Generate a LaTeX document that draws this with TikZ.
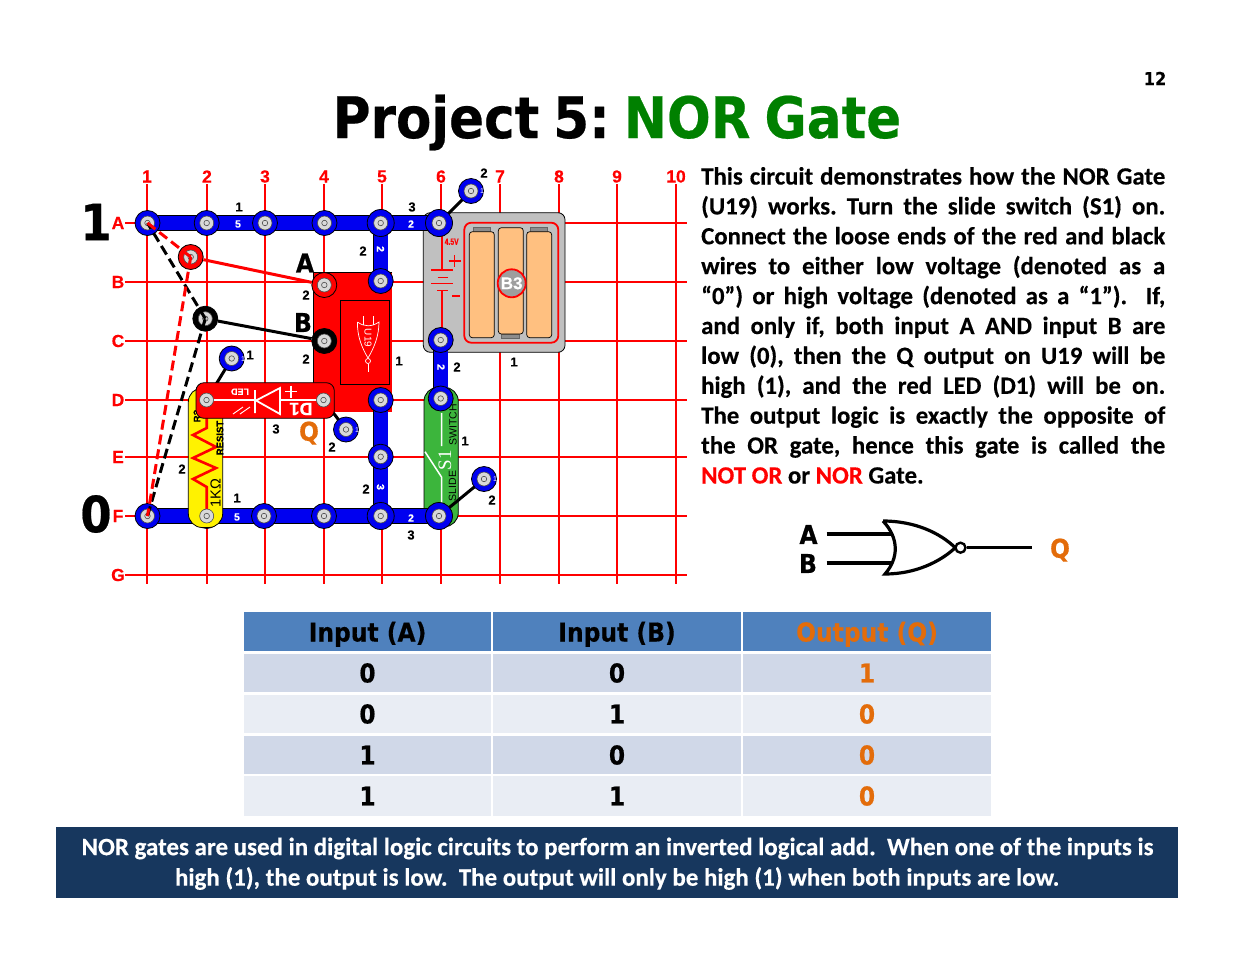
\documentclass[tikz,border=0pt]{standalone}
\usepackage{fontspec}
\setmainfont[BoldFeatures={FakeBold=0.35}]{Carlito}
\newfontfamily\lib[BoldFeatures={FakeBold=0.3}]{Liberation Sans}
\newfontfamily\libser{Liberation Serif}
\newfontfamily\djc[FakeStretch=0.9,BoldFeatures={FakeBold=0.4}]{DejaVu Sans}
\definecolor{snapblue}{HTML}{0000F0}
\definecolor{hdrblue}{HTML}{4F81BD}
\definecolor{rowa}{HTML}{D0D8E8}
\definecolor{rowb}{HTML}{E9EDF4}
\definecolor{qorange}{HTML}{E36C0A}
\definecolor{band}{HTML}{17375E}
\definecolor{titlegreen}{HTML}{008000}
\definecolor{cellc}{HTML}{FFC080}
\definecolor{batgray}{HTML}{C0C0C0}
\definecolor{swgreen}{HTML}{3CB53C}
\newcommand\fsz[1]{\fontsize{#1}{#1}\selectfont}
\tikzset{
 gridline/.style={draw=red,line width=1.7},
 gridlab/.style={text=red,inner sep=0,font=\lib\bfseries\fsz{17.5}},
 strip/.style={draw=black,line width=.7,double=snapblue,double distance=14,line cap=round},
 snapo/.style={circle,minimum size=25,inner sep=0,draw=black,line width=.8,fill=snapblue},
 snapi/.style={circle,minimum size=14,inner sep=0,draw=black!70,line width=.6,fill=black!15},
 snapc/.style={circle,minimum size=5.5,inner sep=0,draw=black!70,line width=.6,fill=black!15},
 num/.style={inner sep=0,font=\lib\bfseries\fsz{13}},
 wnum/.style={inner sep=0,text=white,font=\lib\bfseries\fsz{10.5}},
 big/.style={inner sep=0,font=\djc\bfseries\fsz{#1}},
 cell/.style={inner sep=0,minimum width=247.5,font=\djc\bfseries\fsz{26}},
 gateline/.style={draw=black,line width=3.2},
 wirer/.style={draw=red,line width=3},
 wirek/.style={draw=black,line width=3},
 wdash/.style={dash pattern=on 10pt off 5pt},
}
\newcommand\snapat[4][25]{%
  \node[snapo,fill=#4,minimum size=#1] (#2) at (#3) {};
  \node[snapi] (#2i) at (#2) {};
  \node[snapc] (#2c) at (#2) {};}
\begin{document}
\begin{tikzpicture}[x=1pt,y=-1pt]
\useasboundingbox (0,0) rectangle (1235,954);
% ---- title
\node[inner sep=0,font=\djc\bfseries\fsz{57.3}] (title) at (617,122.5) {Project\hspace{14pt}5:\hspace{14pt}\textcolor{titlegreen}{NOR\hspace{14pt}Gate}};
\node[inner sep=0,font=\djc\bfseries\fsz{18}] (page) at (1155,78.5) {12};
% ---- grid
\foreach \x/\l in {147/1,207/2,265/3,324/4,382/5,441/6,500/7,559/8,617/9,676/10}{
  \draw[gridline] (\x,184) -- (\x,584);
  \node[gridlab] (col\l) at (\x,176.5) {\l};}
\foreach \y/\l in {223/A,282/B,341/C,400/D,457/E,516/F,575/G}{
  \draw[gridline] (125,\y) -- (687,\y);
  \node[gridlab] (row\l) at (118,\y) {\l};}
% ---- coordinates of snaps
\coordinate (a1) at (147.5,223); \coordinate (a2) at (206.7,223); \coordinate (a3) at (265,223);
\coordinate (a4) at (324.5,223); \coordinate (a5) at (380.7,223); \coordinate (a6) at (439,223);
\coordinate (b5) at (380.7,281); \coordinate (c6) at (440.7,340); \coordinate (d6) at (440.7,398.5);
\coordinate (d5) at (380.7,400); \coordinate (e5) at (380.7,456.7); \coordinate (f5) at (380.7,516);
\coordinate (f6) at (439,516); \coordinate (f1) at (147.5,516); \coordinate (f2) at (206.7,516);
\coordinate (f3) at (264,516); \coordinate (f4) at (324,516);
\coordinate (ua) at (324.3,285); \coordinate (ub) at (324.3,341);
\coordinate (l1) at (206.5,400); \coordinate (l2) at (323.5,400);
\coordinate (s1) at (471,191); \coordinate (s2) at (484,479); \coordinate (s3) at (231.7,358.5); \coordinate (s4) at (346,429.5);
\coordinate (lr) at (190.7,257); \coordinate (lk) at (205.3,318.7);
% ---- F row strip, beneath resistor
\draw[strip] (f1) -- (f5);
\node[snapo] (f2o) at (f2) {};
% ---- resistor
\draw[fill=yellow,draw=black,line width=.8,rounded corners=14] (188.3,388) rectangle (222.7,527.5);
\draw[draw=red,line width=2.6] (206.7,516) -- (206.7,487) -- (193,479) -- (216,468) -- (193,458) -- (216,447) -- (193,435) -- (206.7,428) -- (206.7,400);
\node[inner sep=0,rotate=90,font=\lib\fsz{14.5}] (rv) at (215.5,493) {1KΩ};
\node[inner sep=0,rotate=90,font=\lib\bfseries\fsz{9.5}] (rn) at (220,438) {RESIST};
\node[inner sep=0,rotate=90,font=\lib\bfseries\fsz{9.5}] (rr) at (197,416) {R?};
% ---- U19
\fill[red] (313.3,272.7) -- (392,272.7) -- (392,411.7) -- (313.3,411.7) -- cycle;
\draw[draw=black,line width=.8] (392,272.7) -- (313.3,272.7) -- (313.3,411.7);
\draw[draw=black,line width=1] (340.7,300) rectangle (389.3,384);
\begin{scope}[draw=white,line width=.7]
 \draw (357.5,322) .. controls (357,336) and (362,348) .. (368,358) .. controls (374,348) and (379,336) .. (379,322) .. controls (372,327) and (364,327) .. (357.5,322);
 \draw (363,316) -- (363,325);
 \draw (373.5,316) -- (373.5,325);
 \draw (368,361) circle (2.5);
 \draw (368,364) -- (368,372);
\end{scope}
\node[inner sep=0,rotate=-90,text=white,font=\lib\fsz{10}] (ulab) at (368,338) {U19};
% ---- battery
\draw[fill=batgray,draw=black,line width=.8,rounded corners=7] (423.3,212.7) rectangle (565,352.3);
\draw[draw=red,line width=1.8,rounded corners=7,fill=batgray] (464.3,222.7) rectangle (558.3,342.7);
\foreach \a/\b/\c/\d in {473.3/227.7/490.7/232,530/227.7/547.3/232,501/334/519/338.7}
  \draw[fill=black!45,draw=black!60,line width=.5] (\a,\b) rectangle (\c,\d);
\foreach \a/\b/\c/\d in {469.3/231.7/494.3/337.7,498.3/227.7/523.3/334,526.7/231.7/551.7/337.7}
  \draw[fill=cellc,draw=black,line width=.7,rounded corners=3] (\a,\b) rectangle (\c,\d);
\node[circle,minimum size=28,inner sep=0,fill=black!38,draw=red,line width=1.8,text=white,font=\lib\bfseries\fsz{17}] (b3) at (511.7,283.3) {B3};
\draw[draw=red,line width=1.3] (442,223) -- (442,270) (431,270) -- (452.7,270) (437.7,277.3) -- (448,277.3) (431,283.7) -- (452.7,283.7) (437,290.7) -- (448,290.7) (442,290.7) -- (442,340);
\node[inner sep=0,text=red,font=\lib\bfseries\fsz{9},xscale=.75] (v45) at (451.7,241.7) {4.5V};
\draw[draw=red,line width=1.7] (448.5,261) -- (460.5,261) (454.5,255) -- (454.5,267) (452,295.7) -- (460,295.7);
% ---- switch
\draw[fill=swgreen,draw=black,line width=.8,rounded corners=14] (424,387.3) rectangle (458.3,526.7);
\draw[draw=white,line width=1.5] (441.7,413) -- (441.7,446) (425,451.7) -- (441.7,477.3) -- (441.7,503);
\node[inner sep=0,rotate=90,text=white,font=\libser\fsz{19}] (s1lab) at (445,460) {S1};
\node[inner sep=0,rotate=90,font=\lib\fsz{10.5}] (swl) at (453,425) {SWITCH};
\node[inner sep=0,rotate=90,font=\lib\fsz{10.5}] (sll) at (452.5,486) {SLIDE};
% ---- strips
\draw[strip] (a1) -- (a5);
\draw[strip] (a5) -- (a6);
\draw[strip] (a5) -- (b5);
\draw[strip] (c6) -- (d6);
\draw[strip] (d5) -- (f5);
\draw[strip] (f5) -- (f6);
% ---- LED
\draw[wirek] (s3) -- (l1);
\draw[wirek] (s4) -- (l2);
\draw[fill=red,draw=black,line width=.8,rounded corners=8] (196,382.7) rectangle (334.3,418.3);
\draw[draw=white,line width=1.4] (206,400) -- (255,400) (280,400) -- (323,400);
\draw[fill=none,draw=white,line width=1.8] (280,388) -- (280,414) -- (256,400.5) -- cycle (255,390) -- (255,413);
\node[inner sep=0,rotate=180,text=white,font=\lib\bfseries\fsz{9}] (ledl) at (240,391.7) {LED};
\node[inner sep=0,rotate=180,text=white,font=\lib\bfseries\fsz{18}] (dl) at (301,409) {D1};
\draw[draw=white,line width=1.5] (285,391.7) -- (297,391.7) (291,385.7) -- (291,397.7);
\draw[draw=white,line width=.9] (233,414) -- (243,407) (240,414) -- (250,407);
% ---- snaps
\draw[wirek] (a6) -- (s1);
\draw[wirek] (f6) -- (s2);
\snapat{na1}{a1}{snapblue}
\snapat{na2}{a2}{snapblue}
\snapat{na3}{a3}{snapblue}
\snapat{na4}{a4}{snapblue}
\snapat[27]{na5}{a5}{snapblue}
\snapat[27]{na6}{a6}{snapblue}
\snapat{nb5}{b5}{snapblue}
\snapat{nc6}{c6}{snapblue}
\snapat{nd6}{d6}{snapblue}
\snapat{nd5}{d5}{snapblue}
\snapat{ne5}{e5}{snapblue}
\snapat[27]{nf5}{f5}{snapblue}
\snapat[27]{nf6}{f6}{snapblue}
\snapat{nf1}{f1}{snapblue}
\snapat{nf3}{f3}{snapblue}
\snapat{nf4}{f4}{snapblue}
\snapat{ns1}{s1}{snapblue}
\snapat{ns2}{s2}{snapblue}
\snapat{ns3}{s3}{snapblue}
\snapat{ns4}{s4}{snapblue}
\node[snapi] (nf2i) at (f2) {}; \node[snapc] (nf2c) at (f2) {};
\node[snapi] (nl1i) at (l1) {}; \node[snapc] (nl1c) at (l1) {};
\node[snapi] (nl2i) at (l2) {}; \node[snapc] (nl2c) at (l2) {};
\snapat{nua}{ua}{red}
\snapat{nlr}{lr}{red}
\node[snapo,fill=black,draw=black] (nub) at (ub) {};
\node[snapi] (nubi) at (ub) {}; \node[snapc] (nubc) at (ub) {};
\node[snapo,fill=black,draw=black] (nlk) at (lk) {};
\node[snapi] (nlki) at (lk) {}; \node[snapc] (nlkc) at (lk) {};
% ---- loose wires
\draw[wirer] (nlr) -- (nua);
\draw[wirek] (nlk) -- (nub);
\draw[wirek,wdash] (f1) -- (lk);
\draw[wirek,wdash] (lk) -- (a1);
\draw[wirer,wdash] (a1) -- (lr);
\draw[wirer,wdash] (lr) -- (f1);
% ---- numbers on snaps
\node[num] (n1) at (239,207) {1}; \node[num] (n2) at (412,207) {3}; \node[num] (n3) at (484,173) {2};
\node[num] (n4) at (363,251) {2}; \node[num] (n5) at (306,295) {2}; \node[num] (n6) at (306,359) {2};
\node[num] (n7) at (250,355) {1}; \node[num] (n8) at (399,361) {1}; \node[num] (n9) at (457,367) {2};
\node[num] (n10) at (514,362) {1}; \node[num] (n11) at (276,429) {3}; \node[num] (n12) at (332,447) {2};
\node[num] (n13) at (182,469) {2}; \node[num] (n14) at (237,498) {1}; \node[num] (n15) at (366,489) {2};
\node[num] (n16) at (465,441) {1}; \node[num] (n17) at (492,500) {2}; \node[num] (n18) at (411,535) {3};
\node[wnum] (w1) at (238,224) {5}; \node[wnum] (w2) at (411,224) {2}; \node[wnum,rotate=-90] (w3) at (380.5,249) {2};
\node[wnum] (w4) at (237,517) {5}; \node[wnum,rotate=-90] (w5) at (380.5,487) {3}; \node[wnum] (w6) at (411,518) {2};
\node[wnum,rotate=-90] (w7) at (441,367) {2};
\foreach \nm/\px/\py in {t1/482/191,t2/495/479,t3/243/359,t4/357/430}
  \node[wnum,font=\lib\fsz{7}] (\nm) at (\px,\py) {1};
% ---- big labels
\node[big=50] (one) at (96,222) {1};
\node[big=50] (zero) at (96,514) {0};
\node[big=26] (la) at (305,263) {A};
\node[big=26] (lb) at (303,322.5) {B};
\node[big=26,text=qorange] (lq) at (309,433) {Q};
% ---- paragraph
\node[inner sep=0,anchor=base west,font=\bfseries\fontsize{24.8}{29.9}\selectfont] (para) at (701,184.5) {\parbox[t]{464pt}{\frenchspacing
\makebox[464pt][s]{This circuit demonstrates how the NOR Gate}\par
\makebox[464pt][s]{(U19) works. Turn the slide switch (S1) on.}\par
\makebox[464pt][s]{Connect the loose ends of the red and black}\par
\makebox[464pt][s]{wires to either low voltage (denoted as a}\par
\makebox[464pt][s]{“0”) or high voltage (denoted as a “1”).\ \ If,}\par
\makebox[464pt][s]{and only if, both input A AND input B are}\par
\makebox[464pt][s]{low (0), then the Q output on U19 will be}\par
\makebox[464pt][s]{high (1), and the red LED (D1) will be on.}\par
\makebox[464pt][s]{The output logic is exactly the opposite of}\par
\makebox[464pt][s]{the OR gate, hence this gate is called the}\par
\makebox[464pt][l]{\textcolor{red}{NOT OR} or \textcolor{red}{NOR} Gate.}}};
% ---- gate
\coordinate (gai) at (826.7,534); \coordinate (gbi) at (826.7,563);
\coordinate (gae) at (892,534); \coordinate (gbe) at (892,563);
\coordinate (gtop) at (883,521); \coordinate (gbot) at (885,574); \coordinate (gtip) at (955.3,547.7);
\coordinate (gout) at (1031.7,547.7);
\draw[gateline] (gai) -- (gae);
\draw[gateline] (gbi) -- (gbe);
\draw[gateline,line join=miter] (gtop) .. controls (915,521) and (940,533) .. (gtip) .. controls (940,562) and (915,574) .. (gbot) .. controls (899,558) and (899,538) .. (gtop);
\node[circle,minimum size=10,inner sep=0,draw=black,line width=2.4,fill=white] (bub) at (960.5,547.7) {};
\draw[gateline,line width=2.6] (bub) -- (gout);
\node[big=26] (ga) at (808.5,534.5) {A};
\node[big=26] (gb) at (808,563.5) {B};
\node[big=26,text=qorange] (gq) at (1060,550) {Q};
% ---- table
\foreach \nm/\xx/\yy/\hh/\ff/\tc/\tx in {
 h1/367.5/631.5/39/hdrblue/black/\raisebox{-10pt}[0pt][0pt]{Input (A)},h2/617/631.5/39/hdrblue/black/\raisebox{-10pt}[0pt][0pt]{Input (B)},h3/867/631.5/39/hdrblue/qorange/\raisebox{-10pt}[0pt][0pt]{Output (Q)},
 r11/367.5/673/38.5/rowa/black/0,r12/617/673/38.5/rowa/black/0,r13/867/673/38.5/rowa/qorange/1,
 r21/367.5/714/38.5/rowb/black/0,r22/617/714/38.5/rowb/black/1,r23/867/714/38.5/rowb/qorange/0,
 r31/367.5/755/38.5/rowa/black/1,r32/617/755/38.5/rowa/black/0,r33/867/755/38.5/rowa/qorange/0,
 r41/367.5/796/39.5/rowb/black/1,r42/617/796/39.5/rowb/black/1,r43/867/796/39.5/rowb/qorange/0}
  \node[cell,minimum height=\hh,fill=\ff,text=\tc] (\nm) at (\xx,\yy) {\tx};
% ---- band
\fill[band] (56,827) rectangle (1178,898);
\node[inner sep=0,text=white,font=\bfseries\fsz{24.95}] (bl1) at (617.5,848.5) {NOR gates are used in digital logic circuits to perform an inverted logical add.\ \ When one of the inputs is};
\node[inner sep=0,text=white,font=\bfseries\fsz{24.95}] (bl2) at (617,878.5) {high (1), the output is low.\ \ The output will only be high (1) when both inputs are low.};
\end{tikzpicture}
\end{document}
